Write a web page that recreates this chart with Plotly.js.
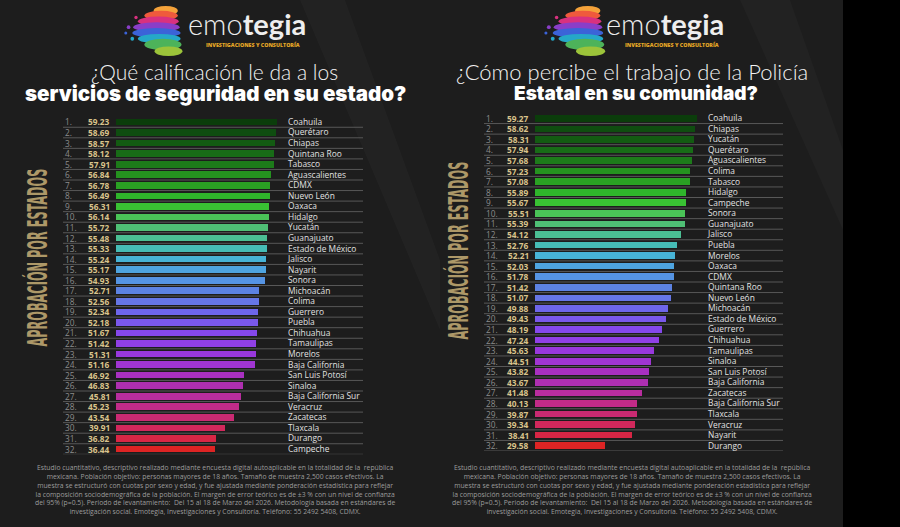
<!DOCTYPE html>
<html><head><meta charset="utf-8">
<script src="https://cdn.plot.ly/plotly-3.0.1.min.js"></script>
<style>html,body{margin:0;padding:0;background:#1d1d1d;}</style>
</head><body>
<div id="chart" style="width:900px;height:527px;"></div>
<script>
// ---------- DATA ----------
const rankLabels = ['1.','2.','3.','4.','5.','6.','7.','8.','9.','10.','11.','12.','13.','14.','15.','16.','17.','18.','19.','20.','21.','22.','23.','24.','25.','26.','27.','28.','29.','30.','31.','32.'];
const rankPos = [1,2,3,4,5,6,7,8,9,10,11,12,13,14,15,16,17,18,19,20,21,22,23,24,25,26,27,28,29,30,31,32];

const statesSeg = ['Coahuila','Querétaro','Chiapas','Quintana Roo','Tabasco','Aguascalientes','CDMX','Nuevo León','Oaxaca','Hidalgo','Yucatán','Guanajuato','Estado de México','Jalisco','Nayarit','Sonora','Michoacán','Colima','Guerrero','Puebla','Chihuahua','Tamaulipas','Morelos','Baja California','San Luis Potosí','Sinaloa','Baja California Sur','Veracruz','Zacatecas','Tlaxcala','Durango','Campeche'];
const valuesSeg = [59.23,58.69,58.57,58.12,57.91,56.84,56.78,56.49,56.31,56.14,55.72,55.48,55.33,55.24,55.17,54.93,52.71,52.56,52.34,52.18,51.67,51.42,51.31,51.16,46.92,46.83,45.81,45.23,43.54,39.91,36.82,36.44];

const statesPol = ['Coahuila','Chiapas','Yucatán','Querétaro','Aguascalientes','Colima','Tabasco','Hidalgo','Campeche','Sonora','Guanajuato','Jalisco','Puebla','Morelos','Oaxaca','CDMX','Quintana Roo','Nuevo León','Michoacán','Estado de México','Guerrero','Chihuahua','Tamaulipas','Sinaloa','San Luis Potosí','Baja California','Zacatecas','Baja California Sur','Tlaxcala','Veracruz','Nayarit','Durango'];
const valuesPol = [59.27,58.62,58.31,57.94,57.68,57.23,57.08,55.89,55.67,55.51,55.39,54.12,52.76,52.21,52.03,51.78,51.42,51.07,49.88,49.43,48.19,47.24,45.63,44.51,43.82,43.67,41.48,40.13,39.87,39.34,38.41,29.58];

const rankColors = ['#0b3d0b','#0f4d10','#135b12','#186c17','#1d7b1a','#25921f','#2aa123','#2fb52b','#39c233','#4ac457','#4fbf75','#4bbf94','#46bcb6','#47b3d6','#4ea4e0','#5594e4','#5c82e2','#6676e6','#6e66ea','#7a58ea','#8548eb','#9040e5','#9838dc','#a035d2','#a830c0','#ae2fb0','#b82d9e','#c22b88','#c92a72','#d2285c','#d82645','#dd2424'];

const title1a = '¿Qué calificación le da a los';
const title1b = 'servicios de seguridad en su estado?';
const title2a = '¿Cómo percibe el trabajo de la Policía';
const title2b = 'Estatal en su comunidad?';
const sideLabel = 'APROBACIÓN POR ESTADOS';
const footnote = 'Estudio cuantitativo, descriptivo realizado mediante encuesta digital autoaplicable en la totalidad de la  república<br>mexicana. Población objetivo: personas mayores de 18 años. Tamaño de muestra 2,500 casos efectivos. La<br>muestra se estructuró con cuotas por sexo y edad, y fue ajustada mediante ponderación estadística para reflejar<br>la composición sociodemográfica de la población. El margen de error teórico es de ±3 % con un nivel de confianza<br>del 95% (p=0.5). Periodo de levantamiento:  Del 15 al 18 de Marzo del 2026. Metodología basada en estándares de<br>investigación social. Emotegia, Investigaciones y Consultoría. Teléfono: 55 2492 5408, CDMX.';

// ---------- HELPERS ----------
const W = 900, H = 527;
const px = v => v / W;
const py = v => 1 - v / H;

const nameFont = {family:'Open Sans, sans-serif', size:8.4, color:'#e2e2e2'};

const traces = [
  {type:'bar', orientation:'h', x:valuesSeg, y:rankPos, width:0.63,
   marker:{color:rankColors, line:{width:0}}, xaxis:'x', yaxis:'y', hoverinfo:'skip'},
  {type:'bar', orientation:'h', x:valuesPol, y:rankPos, width:0.63,
   marker:{color:rankColors, line:{width:0}}, xaxis:'x2', yaxis:'y2', hoverinfo:'skip'}
];

const annotations = [];
const shapes = [];

shapes.push({type:'rect', xref:'paper', yref:'paper', x0:px(843), x1:1, y0:0, y1:1, fillcolor:'#000', line:{width:0}, layer:'below'});
shapes.push({type:'path', xref:'paper', yref:'paper', path:`M ${px(300)} 1 L ${px(345)} 1 L ${px(440)} ${py(260)} L ${px(440)} ${py(330)} Z`, fillcolor:'rgba(255,255,255,0.025)', line:{width:0}, layer:'below'});
shapes.push({type:'path', xref:'paper', yref:'paper', path:`M ${px(740)} 1 L ${px(790)} 1 L ${px(843)} ${py(150)} L ${px(843)} ${py(230)} Z`, fillcolor:'rgba(255,255,255,0.025)', line:{width:0}, layer:'below'});

function panel(vals, yref, rankX, valX, lineX0, lineX1) {
  for (let i = 0; i < rankPos.length; i++) {
    annotations.push({xref:'paper', yref:yref, x:px(rankX), y:rankPos[i], xanchor:'left', yanchor:'middle',
      text:rankLabels[i], showarrow:false, font:{family:'Open Sans, sans-serif', size:8.3, color:'#8c8c8c'}});
    annotations.push({xref:'paper', yref:yref, x:px(valX), y:rankPos[i], xanchor:'right', yanchor:'middle',
      text:'<b>' + vals[i].toFixed(2) + '</b>', showarrow:false, font:{family:'Open Sans, sans-serif', size:8.3, color:'#d9c38c'}});
    shapes.push({type:'line', xref:'paper', yref:yref, x0:px(lineX0), x1:px(lineX1), y0:rankPos[i]+0.5, y1:rankPos[i]+0.5,
      line:{color:'#585858', width:1}, layer:'below'});
  }
}
panel(valuesSeg, 'y', 63, 112, 63, 363);
panel(valuesPol, 'y2', 484, 531, 484, 783);

// side labels (condensed afterwards)
const sideFont = {family:'DejaVu Sans Condensed, Liberation Sans Narrow, sans-serif', size:27, color:'#ad9868', weight:700};
annotations.push({xref:'paper', yref:'paper', x:px(38), y:py(258), text:sideLabel, textangle:-90, showarrow:false, font:sideFont, xanchor:'center', yanchor:'middle'});
annotations.push({xref:'paper', yref:'paper', x:px(458), y:py(250), text:sideLabel, textangle:-90, showarrow:false, font:sideFont, xanchor:'center', yanchor:'middle'});

// titles
const lightFont = {family:'Lato, Open Sans, sans-serif', size:21, color:'#f2f2f2', weight:300};
const lightFont2 = {family:'Lato, Open Sans, sans-serif', size:22, color:'#f2f2f2', weight:300};
const heavyFont = {family:'Inter, Open Sans, sans-serif', size:20.5, color:'#ffffff', weight:900};
const heavyFont2 = {family:'Inter, Open Sans, sans-serif', size:19, color:'#ffffff', weight:900};
annotations.push({xref:'paper', yref:'paper', x:px(214), y:py(71), text:title1a, showarrow:false, font:lightFont, xanchor:'center', yanchor:'middle'});
annotations.push({xref:'paper', yref:'paper', x:px(215), y:py(94), text:title1b, showarrow:false, font:heavyFont, xanchor:'center', yanchor:'middle'});
annotations.push({xref:'paper', yref:'paper', x:px(632), y:py(72), text:title2a, showarrow:false, font:lightFont2, xanchor:'center', yanchor:'middle'});
annotations.push({xref:'paper', yref:'paper', x:px(636), y:py(94), text:title2b, showarrow:false, font:heavyFont2, xanchor:'center', yanchor:'middle'});

// logo text
const logoFont = {family:'Lato, Open Sans, sans-serif', size:29, color:'#eeeeee', weight:300};
const subFont = {family:'Open Sans, sans-serif', size:5.3, color:'#e3a626', weight:800};
annotations.push({xref:'paper', yref:'paper', x:px(247), y:py(24), text:'emo<b>tegia</b>', showarrow:false, font:logoFont, xanchor:'center', yanchor:'middle'});
annotations.push({xref:'paper', yref:'paper', x:px(253), y:py(45.5), text:'INVESTIGACIONES Y CONSULTORÍA', showarrow:false, font:subFont, xanchor:'center', yanchor:'middle'});
annotations.push({xref:'paper', yref:'paper', x:px(665), y:py(24), text:'emo<b>tegia</b>', showarrow:false, font:logoFont, xanchor:'center', yanchor:'middle'});
annotations.push({xref:'paper', yref:'paper', x:px(672), y:py(45.5), text:'INVESTIGACIONES Y CONSULTORÍA', showarrow:false, font:subFont, xanchor:'center', yanchor:'middle'});

// footnotes
const footFont = {family:'Open Sans, sans-serif', size:6.8, color:'#9c9c9c'};
annotations.push({xref:'paper', yref:'paper', x:px(215), y:py(489.5), text:footnote, showarrow:false, font:footFont, align:'center', xanchor:'center', yanchor:'middle'});
annotations.push({xref:'paper', yref:'paper', x:px(632), y:py(489.5), text:footnote, showarrow:false, font:footFont, align:'center', xanchor:'center', yanchor:'middle'});

// logo splash (decorative svg)
const splash = `<svg xmlns='http://www.w3.org/2000/svg' width='70' height='56' viewBox='0 0 70 56'>
<ellipse cx='46' cy='7' rx='13' ry='5' fill='#f4a23a'/>
<ellipse cx='41' cy='12' rx='18' ry='5' fill='#ef5a3c'/>
<ellipse cx='38' cy='18' rx='22' ry='5' fill='#d9317f'/>
<ellipse cx='36' cy='24' rx='25' ry='5' fill='#8a3ec8'/>
<ellipse cx='36' cy='30' rx='26' ry='5' fill='#3b63d8'/>
<ellipse cx='39' cy='36' rx='23' ry='5' fill='#25a8c8'/>
<ellipse cx='43' cy='42' rx='20' ry='6' fill='#4db35a'/>
<ellipse cx='49' cy='49' rx='15' ry='5' fill='#9cc43a'/>
<circle cx='6' cy='24' r='2' fill='#8a3ec8'/><circle cx='3' cy='30' r='1.6' fill='#3b63d8'/>
<circle cx='10' cy='36' r='2' fill='#25a8c8'/><circle cx='14' cy='14' r='1.8' fill='#d9317f'/>
</svg>`;
const splashUri = 'data:image/svg+xml;utf8,' + encodeURIComponent(splash);
const images = [
  {source:splashUri, xref:'paper', yref:'paper', x:px(123), y:py(4), sizex:px(65), sizey:54/H, xanchor:'left', yanchor:'top', sizing:'stretch', layer:'above'},
  {source:splashUri, xref:'paper', yref:'paper', x:px(543), y:py(4), sizex:px(68), sizey:54/H, xanchor:'left', yanchor:'top', sizing:'stretch', layer:'above'}
];

const yCommon = {range:[32.5,0.5], side:'right', tickvals:rankPos, ticks:'', showgrid:false, zeroline:false,
  showline:false, tickfont:nameFont, ticklabelstandoff:3, fixedrange:true};

const layout = {
  width:W, height:H, margin:{l:0,r:0,t:0,b:0},
  paper_bgcolor:'#1d1d1d', plot_bgcolor:'rgba(0,0,0,0)', showlegend:false, bargap:0,
  xaxis:{domain:[px(116), px(284)], range:[0,61.76], visible:false, fixedrange:true, anchor:'y'},
  yaxis:Object.assign({}, yCommon, {domain:[72.7/H, 410.3/H], anchor:'x', ticktext:statesSeg}),
  xaxis2:{domain:[px(535), px(704)], range:[7.1,61.6], visible:false, fixedrange:true, anchor:'y2'},
  yaxis2:Object.assign({}, yCommon, {domain:[76/H, 414/H], anchor:'x2', ticktext:statesPol}),
  annotations:annotations, shapes:shapes, images:images
};

Plotly.newPlot('chart', traces, layout, {staticPlot:true, displayModeBar:false}).then(function(gd){
  // horizontally condense the vertical side labels to mimic a narrow display face
  const targetLen = 178;
  document.querySelectorAll('#chart .annotation-text').forEach(function(el){
    if (el.textContent === sideLabel) {
      const bb = el.getBBox();
      const s = targetLen / bb.width;
      const cx = bb.x + bb.width / 2, cy = bb.y + bb.height / 2;
      el.setAttribute('transform', 'translate(' + cx + ',' + cy + ') scale(' + s + ',1) translate(' + (-cx) + ',' + (-cy) + ')');
    }
  });
});
</script>
</body></html>
